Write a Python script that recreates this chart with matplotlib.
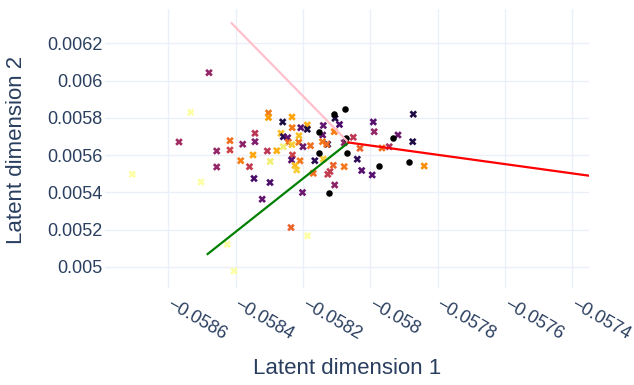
import numpy as np
import matplotlib
matplotlib.use('Agg')
import matplotlib.pyplot as plt

# latent coordinates of the encoded samples (x markers), colour value in [0, 1]
latent1 = [-0.0584797, -0.0585341, -0.0585688, -0.0584173, -0.0584173, -0.0584568,
           -0.0584568, -0.0583796, -0.0583431, -0.0583431, -0.0583855, -0.0583490,
           -0.0583594, -0.0583065, -0.0582979, -0.0582783, -0.0583030, -0.0583030,
           -0.0582608, -0.0582332, -0.0582326, -0.0582070, -0.0581877, -0.0581877,
           -0.0581402, -0.0582658, -0.0582590, -0.0582459, -0.0582441, -0.0582130,
           -0.0582124, -0.0582332, -0.0582590, -0.0582005, -0.0581782, -0.0582317,
           -0.0582346, -0.0582094, -0.0582242, -0.0582192, -0.0581654, -0.0581402,
           -0.0581699, -0.0583460, -0.0582985, -0.0583217, -0.0582020, -0.0581063,
           -0.0581203, -0.0581268, -0.0581105, -0.0580781, -0.0582361, -0.0581871,
           -0.0584253, -0.0584054, -0.0587075, -0.0585035, -0.0581054, -0.0580921,
           -0.0581078, -0.0581420, -0.0580781, -0.0580511, -0.0581426, -0.0581271,
           -0.0580312, -0.0579917, -0.0579890, -0.0578728, -0.0579183, -0.0578746,
           -0.0579658, -0.0579444, -0.0580392, -0.0580261, -0.0579949, -0.0578405,
           -0.0581301]
latent2 = [0.0060423, 0.0058298, 0.0056705, 0.0056775, 0.0056276, 0.0056222,
           0.0055364, 0.0056587, 0.0057172, 0.0056721, 0.0055702, 0.0056008,
           0.0055380, 0.0056222, 0.0055659, 0.0056238, 0.0058261, 0.0058019,
           0.0057778, 0.0058046, 0.0057472, 0.0057472, 0.0057617, 0.0057386,
           0.0057590, 0.0057172, 0.0056989, 0.0056936, 0.0056689, 0.0056689,
           0.0057043, 0.0056560, 0.0056453, 0.0056453, 0.0056506, 0.0056008,
           0.0055739, 0.0055696, 0.0055444, 0.0055203, 0.0055702, 0.0055793,
           0.0055026, 0.0054747, 0.0054532, 0.0053636, 0.0053996, 0.0054398,
           0.0055122, 0.0054972, 0.0055455, 0.0055380, 0.0052118, 0.0051673,
           0.0051217, 0.0049784, 0.0054972, 0.0054559, 0.0057976, 0.0057644,
           0.0057258, 0.0057080, 0.0056667, 0.0056957, 0.0056721, 0.0056582,
           0.0056367, 0.0057778, 0.0057258, 0.0058196, 0.0057080, 0.0056721,
           0.0056383, 0.0056453, 0.0055782, 0.0055176, 0.0054935, 0.0055417,
           0.0056582]
colour = [0.40, 1.00, 0.44, 0.68, 0.55, 0.40,
          0.40, 0.38, 0.50, 0.35, 0.72, 0.80,
          0.52, 0.50, 0.95, 0.82, 0.70, 0.78,
          0.12, 0.80, 0.70, 0.25, 0.82, 0.12,
          0.28, 0.85, 0.15, 0.28, 0.68, 0.70,
          0.85, 0.88, 0.95, 0.30, 0.68, 0.55,
          0.25, 0.70, 0.85, 0.88, 0.15, 0.88,
          0.68, 0.22, 0.22, 0.28, 0.30, 0.38,
          0.52, 0.52, 0.65, 0.70, 0.65, 1.00,
          1.00, 1.00, 1.00, 1.00, 0.12, 0.22,
          0.72, 0.28, 0.38, 0.50, 0.70, 0.15,
          0.65, 0.25, 0.40, 0.12, 0.30, 0.12,
          0.68, 0.45, 0.15, 0.25, 0.25, 0.75,
          0.68]

# reference samples (black dots)
ref1 = [-0.0581075, -0.0580748, -0.0581544, -0.0580736, -0.0581535,
        -0.0580707, -0.0579747, -0.0579323, -0.0578856, -0.0581233]
ref2 = [0.0058207, 0.0058475, 0.0057258, 0.0056936, 0.0056131,
        0.0056131, 0.0055428, 0.0056936, 0.0055605, 0.0053969]

# direction lines from the common origin
origin = (-0.0580653, 0.0056678)
pink_end = (-0.0584123, 0.0063073)
green_end = (-0.0584836, 0.0050696)
red_end = (-0.0573509, 0.0054897)

xticks = [-0.0586, -0.0584, -0.0582, -0.058, -0.0578, -0.0576, -0.0574]
xticklabels = ['\u22120.0586', '\u22120.0584', '\u22120.0582', '\u22120.058',
               '\u22120.0578', '\u22120.0576', '\u22120.0574']
yticks = [0.005, 0.0052, 0.0054, 0.0056, 0.0058, 0.006, 0.0062]
yticklabels = ['0.005', '0.0052', '0.0054', '0.0056', '0.0058', '0.006', '0.0062']

plt.rcParams['font.family'] = ['Liberation Sans', 'DejaVu Sans']
text_col = '#2a3f5f'
W, H = 634, 385

fig = plt.figure(figsize=(W/100, H/100), dpi=100)
ax = fig.add_axes([105/W, 1-288/H, 484/W, 279/H])

ax.scatter(latent1, latent2, c=colour, cmap='inferno', vmin=0, vmax=1,
           marker='X', s=30, linewidths=0, zorder=3)
ax.scatter(ref1, ref2, c='black', marker='o', s=22, linewidths=0, zorder=4)

for end, col in [(pink_end, 'pink'), (green_end, 'green'), (red_end, 'red')]:
    ax.plot([end[0], origin[0]], [end[1], origin[1]], color=col, lw=1.6, zorder=5)

ax.set_xlim(-0.0587886, -0.0573509)
ax.set_ylim(0.0048872, 0.006384)

ax.set_xticks(xticks)
ax.set_xticklabels(xticklabels, rotation=-30, ha='left', va='center',
                   rotation_mode='anchor')
ax.set_yticks(yticks)
ax.set_yticklabels(yticklabels)
ax.tick_params(axis='x', length=0, pad=11, labelsize=13, labelcolor=text_col)
ax.tick_params(axis='y', length=0, pad=2, labelsize=13, labelcolor=text_col)

ax.grid(True, color='#ebf0f8', lw=1)
ax.set_axisbelow(True)
for s in ax.spines.values():
    s.set_visible(False)

fig.text(347/W, 1-368/H, 'Latent dimension 1', ha='center', va='center',
         fontsize=16, color=text_col)
fig.text(17/W, 1-150/H, 'Latent dimension 2', ha='center', va='center',
         fontsize=16, color=text_col, rotation=90)

plt.savefig('out.png', dpi=100)
